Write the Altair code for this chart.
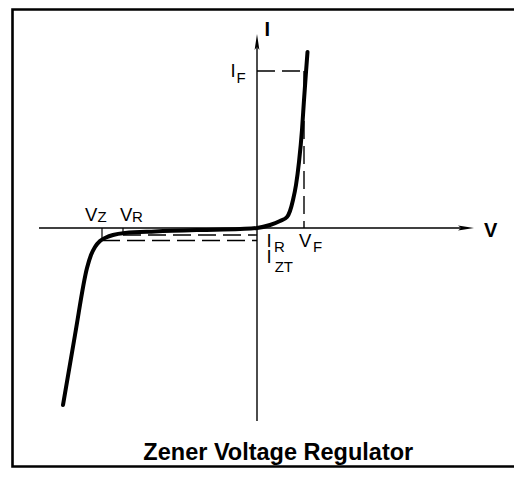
import altair as alt
import pandas as pd

# ---- data (abstract volts / milliamps) ----
curve_v = [-9.7, -9.1, -8.5, -8.3, -8.1, -7.85, -7.55, -7.2, -6.6, -5.1, -2.85, -0.85,
           0.0, 0.65, 1.15, 1.5, 1.65, 1.8, 1.95, 2.1, 2.25, 2.35, 2.45, 2.525]
curve_i = [-44.25, -26.75, -10.0, -6.75, -4.75, -3.25, -2.375, -1.75, -1.25, -0.875, -0.5, -0.25,
           0.0, 0.75, 1.75, 2.75, 4.25, 7.0, 10.75, 16.5, 24.5, 32.0, 39.0, 44.0]

V_Z, V_R, V_F = -7.75, -6.7, 2.35
I_F, I_R, I_ZT = 39.25, -1.75, -3.125

x_axis_v = [-10.9, 10.45]
y_axis_i = [-48.25, 46.5]

main_text = ["I", "V", "V", "I", "I", "V"]
main_v = [-1.325, -8.6, -6.85, 0.475, 0.475, 2.1]
main_i = [37.825, 1.75, 1.75, -4.825, -8.75, -4.8]

sub_text = ["F", "Z", "R", "R", "ZT", "F"]
sub_v = [-1.02, -7.975, -6.25, 0.85, 0.885, 2.8]
sub_i = [36.175, 1.5, 1.5, -5.925, -10.925, -6.0]

axis_names = ["I", "V"]
axis_name_v = [0.375, 11.35]
axis_name_i = [48.0, -2.175]

title_text = "Zener Voltage Regulator"
title_v, title_i = 1.065, -58.0

# open frame path: right-top -> left-top -> left-bottom -> right-bottom
frame_path_v = [13.6, -12.225, -12.225, 13.6]
frame_path_i = [54.625, 54.625, -59.625, -59.625]

V_DOMAIN = [-12.45, 12.85]
I_DOMAIN = [-60.0, 55.0]
FONT = "Liberation Sans"

xs = alt.Scale(domain=V_DOMAIN, nice=False, zero=False)
ys = alt.Scale(domain=I_DOMAIN, nice=False, zero=False)

def X(f="v"):
    return alt.X(f"{f}:Q", scale=xs, axis=None)

def Y(f="i"):
    return alt.Y(f"{f}:Q", scale=ys, axis=None)

curve_df = pd.DataFrame({"v": curve_v, "i": curve_i, "o": range(len(curve_v))})
frame_df = pd.DataFrame({"v": frame_path_v, "i": frame_path_i, "o": range(len(frame_path_v))})

hline_df = pd.DataFrame({"v": [x_axis_v[0]], "v2": [x_axis_v[1]], "i": [0.0]})
vline_df = pd.DataFrame({"v": [0.0], "i": [y_axis_i[0]], "i2": [y_axis_i[1]]})

dash_h_df = pd.DataFrame({
    "v": [0.0, V_R, V_Z],
    "v2": [V_F, 0.0, 0.0],
    "i": [I_F, I_R, I_ZT],
})
dash_v_df = pd.DataFrame({"v": [V_F], "i": [I_F], "i2": [0.0]})

tick_df = pd.DataFrame({"v": [V_Z, V_R], "i": [0.0, 0.0], "i2": [I_ZT, I_R]})

arrow_x_df = pd.DataFrame({"v": [x_axis_v[1]], "i": [0.0]})
arrow_y_df = pd.DataFrame({"v": [0.0], "i": [y_axis_i[1]]})

main_df = pd.DataFrame({"v": main_v, "i": main_i, "t": main_text})
sub_df = pd.DataFrame({"v": sub_v, "i": sub_i, "t": sub_text})
name_df = pd.DataFrame({"v": axis_name_v, "i": axis_name_i, "t": axis_names})
title_df = pd.DataFrame({"v": [title_v], "i": [title_i], "t": [title_text]})

frame = alt.Chart(frame_df).mark_line(color="black", strokeWidth=2.6, strokeJoin="miter",
                                      strokeCap="butt", interpolate="linear").encode(
    x=X(), y=Y(), order="o:Q")

axis_h = alt.Chart(hline_df).mark_rule(color="black", strokeWidth=1.4).encode(x=X(), x2="v2:Q", y=Y())
axis_v = alt.Chart(vline_df).mark_rule(color="black", strokeWidth=1.4).encode(x=X(), y=Y(), y2="i2:Q")

dash_h = alt.Chart(dash_h_df).mark_rule(color="black", strokeWidth=1.4, strokeDash=[18, 7]).encode(
    x=X(), x2="v2:Q", y=Y())
dash_v = alt.Chart(dash_v_df).mark_rule(color="black", strokeWidth=1.4, strokeDash=[18, 7]).encode(
    x=X(), y=Y(), y2="i2:Q")

ticks = alt.Chart(tick_df).mark_rule(color="black", strokeWidth=1.2).encode(
    x=X(), y=Y(), y2="i2:Q")

curve = alt.Chart(curve_df).mark_line(color="black", strokeWidth=4, interpolate="monotone",
                                      strokeCap="round", strokeJoin="round").encode(
    x=X(), y=Y(), order="o:Q")

arrow_x = alt.Chart(arrow_x_df).mark_point(
    shape="M 1 0 L -1 -0.3 L -0.6 0 L -1 0.3 Z", size=256, filled=True, color="black", opacity=1
).encode(x=X(), y=Y())

arrow_y = alt.Chart(arrow_y_df).mark_point(
    shape="M 0 -1 L -0.3 1 L 0 0.6 L 0.3 1 Z", size=256, filled=True, color="black", opacity=1
).encode(x=X(), y=Y())

main_lbl = alt.Chart(main_df).mark_text(font=FONT, fontSize=18.5, align="left", baseline="alphabetic",
                                        color="black").encode(x=X(), y=Y(), text="t:N")
sub_lbl = alt.Chart(sub_df).mark_text(font=FONT, fontSize=15, align="left", baseline="alphabetic",
                                      color="black").encode(x=X(), y=Y(), text="t:N")
names = alt.Chart(name_df).mark_text(font=FONT, fontSize=20, fontWeight="bold", align="left",
                                     baseline="alphabetic", color="black").encode(x=X(), y=Y(), text="t:N")
title = alt.Chart(title_df).mark_text(font=FONT, fontSize=23.5, fontWeight="bold", align="center",
                                      baseline="alphabetic", color="black").encode(x=X(), y=Y(), text="t:N")

chart = alt.layer(
    frame, axis_h, axis_v, dash_h, dash_v, ticks, curve,
    arrow_x, arrow_y, main_lbl, sub_lbl, names, title
).properties(
    width=506, height=460, padding=0,
    autosize=alt.AutoSizeParams(type="none"),
).configure_view(stroke=None)

chart.save("out.html", embed_options={"renderer": "svg", "actions": False})
